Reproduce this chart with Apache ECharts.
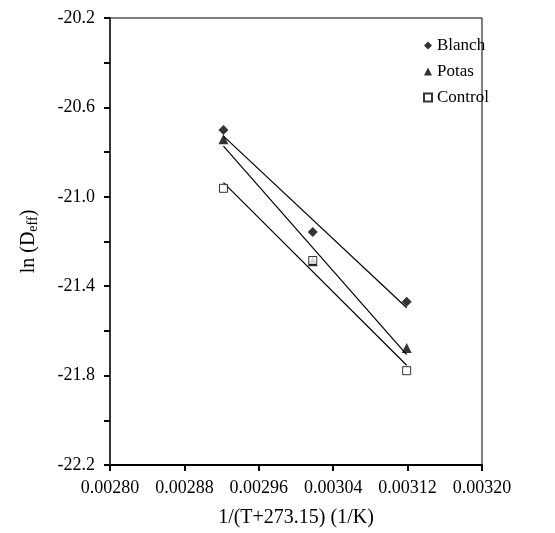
<!DOCTYPE html>
<html>
<head>
<meta charset="utf-8">
<script src="https://cdn.jsdelivr.net/npm/echarts@6/dist/echarts.min.js"></script>
<style>html,body{margin:0;padding:0;background:#fff;}#c{width:555px;height:533px;}</style>
</head>
<body>
<div id="c"></div>
<script>
// Data
var xInvT = [0.002922, 0.003018, 0.003119];
var blanch = [-20.701, -21.157, -21.470];
var potas = [-20.742, -21.288, -21.677];
var control = [-20.962, -21.285, -21.778];
var seriesNames = ['Blanch', 'Potas', 'Control'];
var xTicks = ['0.00280', '0.00288', '0.00296', '0.00304', '0.00312', '0.00320'];
var yTicks = ['-22.2', '-21.8', '-21.4', '-21.0', '-20.6', '-20.2'];

function pairs(xs, ys) { return xs.map(function (x, i) { return [x, ys[i]]; }); }
function fitLine(xs, ys) {
  var n = xs.length, mx = 0, my = 0;
  for (var i = 0; i < n; i++) { mx += xs[i]; my += ys[i]; }
  mx /= n; my /= n;
  var sxy = 0, sxx = 0;
  for (var j = 0; j < n; j++) { sxy += (xs[j] - mx) * (ys[j] - my); sxx += (xs[j] - mx) * (xs[j] - mx); }
  var b = sxy / sxx, a = my - b * mx;
  var x0 = Math.min.apply(null, xs), x1 = Math.max.apply(null, xs);
  return [[x0, a + b * x0], [x1, a + b * x1]];
}

var font = 'Liberation Serif';
var chart = echarts.init(document.getElementById('c'), null, {renderer: 'canvas'});
var lineStyle = {color: '#000', width: 1.2};
var option = {
  animation: false,
  backgroundColor: '#fff',
  grid: {left: 110, top: 18, width: 372, height: 449, show: true, borderColor: '#000', borderWidth: 1, backgroundColor: 'transparent'},
  legend: {
    orient: 'vertical', left: 418, top: 32, itemGap: 9, itemWidth: 8, itemHeight: 8,
    data: seriesNames,
    textStyle: {fontFamily: font, fontSize: 17, color: '#000'}
  },
  xAxis: {
    type: 'value', min: 0.0028, max: 0.0032, interval: 0.00008,
    name: '1/(T+273.15) (1/K)', nameLocation: 'middle', nameGap: 43,
    nameTextStyle: {fontFamily: font, fontSize: 20, color: '#000'},
    axisLine: {onZero: false, lineStyle: {color: '#000', width: 2}},
    axisTick: {show: true, length: 6, lineStyle: {color: '#000', width: 2}},
    splitLine: {show: false},
    axisLabel: {margin: 14, fontFamily: font, fontSize: 18, color: '#000',
      formatter: function (v) { var i = Math.round((v - 0.0028) / 0.00008); return xTicks[i] !== undefined ? xTicks[i] : ''; }}
  },
  yAxis: {
    type: 'value', min: -22.2, max: -20.2, interval: 0.4,
    name: '{n|ln (D}{s|eff}{n|)}', nameLocation: 'middle', nameGap: 70, nameRotate: 90,
    nameTextStyle: {fontFamily: font, fontSize: 20, color: '#000',
      rich: {n: {fontFamily: font, fontSize: 20, color: '#000'}, s: {fontFamily: font, fontSize: 14, color: '#000', padding: [8, 0, 0, 0]}}},
    axisLine: {onZero: false, lineStyle: {color: '#333', width: 2}},
    axisTick: {show: true, length: 6, lineStyle: {color: '#000', width: 2}},
    minorTick: {show: true, splitNumber: 2, length: 6, lineStyle: {color: '#000', width: 2}},
    splitLine: {show: false},
    axisLabel: {margin: 15, fontFamily: font, fontSize: 18, color: '#000',
      formatter: function (v) { var i = Math.round((v + 22.2) / 0.4); return yTicks[i] !== undefined ? yTicks[i] : ''; }}
  },
  series: [
    {name: 'Blanch', type: 'scatter', symbol: 'diamond', symbolSize: 10, itemStyle: {color: '#000'}, data: pairs(xInvT, blanch), z: 5},
    {name: 'Potas', type: 'scatter', symbol: 'triangle', symbolSize: 10, itemStyle: {color: '#000'}, data: pairs(xInvT, potas), z: 5},
    {name: 'Control', type: 'scatter', symbol: 'rect', symbolSize: 8, itemStyle: {color: '#fff', borderColor: '#000', borderWidth: 1}, data: pairs(xInvT, control), z: 6},
    {type: 'line', symbol: 'none', lineStyle: lineStyle, data: fitLine(xInvT, blanch), silent: true},
    {type: 'line', symbol: 'none', lineStyle: lineStyle, data: fitLine(xInvT, potas), silent: true},
    {type: 'line', symbol: 'none', lineStyle: lineStyle, data: fitLine(xInvT, control), silent: true}
  ]
};
chart.setOption(option);
</script>
</body>
</html>
